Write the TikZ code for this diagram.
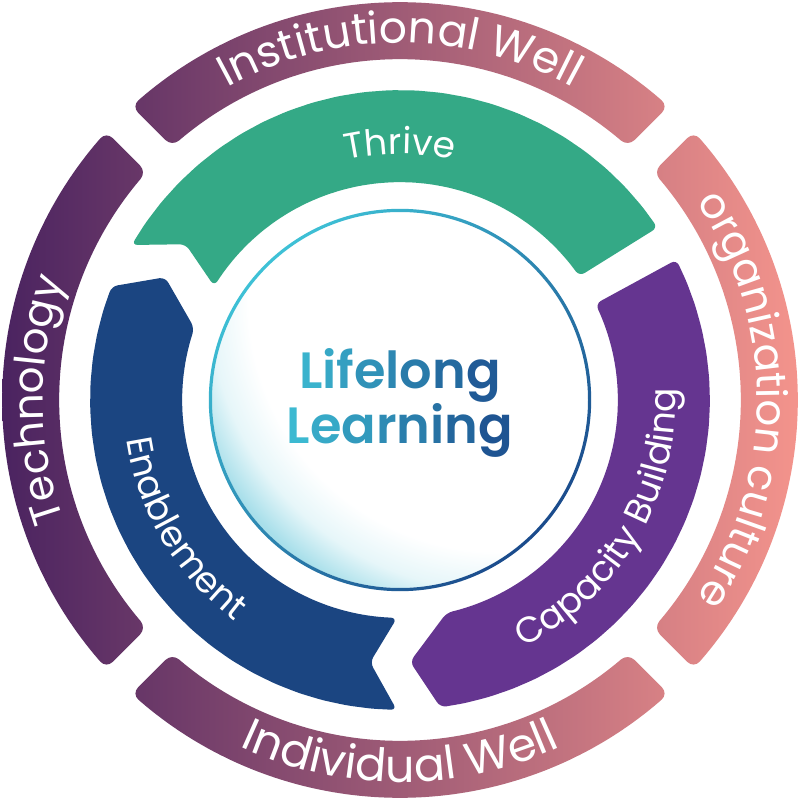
\documentclass[tikz,border=0pt]{standalone}
\usepackage{fontspec}
\setmainfont{Poppins}[BoldFont={Poppins SemiBold}]
\usetikzlibrary{decorations.text}
\definecolor{ringL}{HTML}{4A2360}
\definecolor{ringR}{HTML}{F4948C}
\definecolor{thrivec}{HTML}{34A986}
\definecolor{enabc}{HTML}{1B4581}
\definecolor{capc}{HTML}{653590}
\definecolor{lcyan}{HTML}{3EC1D6}
\definecolor{lblue}{HTML}{1B4B8C}
\definecolor{glowc}{HTML}{A8DFEA}
\definecolor{glowm}{HTML}{E6F6F9}
\pgfdeclareradialshading{glowshade}{\pgfpoint{0bp}{0bp}}{color(0bp)=(white); color(18.4bp)=(white); color(21.3bp)=(glowm); color(23.9bp)=(glowc); color(50bp)=(glowc)}
% polyline arc: start angle, end angle, radius
\newcommand\parc[3]{\foreach \i in {1,...,24}{ -- ({(#1)+((#2)-(#1))*\i/24}:#3pt)}}
% outer ring segment centred at angle #1
\newcommand\oseg[1]{({(#1)+45-2.592}:398pt) \parc{(#1)+45-2.592}{(#1)-45+2.592}{398} -- ({(#1)-45+3.026}:341pt) \parc{(#1)-45+3.026}{(#1)+45-3.026}{341} -- cycle}
\newcommand\gl[2]{\textcolor{lcyan!#1!lblue}{#2}}
\tikzset{
  ringtext/.style 2 args={decorate, decoration={text along path, text align=center, text color=white, text={|\fontsize{#1pt}{#1pt}\selectfont|#2}}},
  arrowtext/.style={decorate, decoration={text along path, text align=center, text color=white, text={|\fontsize{36pt}{36pt}\selectfont|#1}}},
  centertext/.style={anchor=base, inner sep=0pt, font=\bfseries\fontsize{51pt}{55pt}\selectfont}
}
\begin{document}
\begin{tikzpicture}[x=1pt,y=1pt]
\useasboundingbox (-400pt,-400pt) rectangle (400pt,400pt);
\fill[white] (-400pt,-400pt) rectangle (400pt,400pt);
% outer ring
\begin{scope}
  \clip[rounded corners=9pt] \oseg{90} \oseg{0} \oseg{-90} \oseg{180};
  \shade[left color=ringL, right color=ringR] (-400pt,-400pt) rectangle (400pt,400pt);
\end{scope}
% inner arrows
\fill[thrivec, rounded corners=6pt] (33.8:310pt) \parc{33.8}{150}{310} -- (144:265pt) -- (148.5:218pt) \parc{148.5}{34.6}{218} -- cycle;
\fill[enabc, rounded corners=6pt] (158.5:310pt) \parc{158.5}{269.4}{310} -- (263.5:264pt) -- (269.2:218pt) \parc{269.2}{160.7}{218} -- (152.4:265pt) -- cycle;
\fill[capc, rounded corners=6pt] (277.5:310pt) \parc{277.5}{386.9}{310} -- (386.2:218pt) \parc{386.2}{282.3}{218} -- (272.2:262pt) -- cycle;
% centre circle
\begin{scope}
  \clip (0,0) circle (188pt);
  \shade[shading=glowshade] (45:140pt) circle (340pt);
\end{scope}
\shade[even odd rule, top color=lcyan, bottom color=lblue, shading angle=45] (0,0) circle (191.2pt) (0,0) circle (188pt);
% ring texts
\path[ringtext={44}{Institutional Well}] (150:357pt) arc[start angle=150, end angle=30, radius=357pt];
\path[ringtext={42}{organization culture}] (60:357pt) arc[start angle=60, end angle=-60, radius=357pt];
\path[ringtext={42}{Technology}] (240:357pt) arc[start angle=240, end angle=120, radius=357pt];
\path[ringtext={46}{Individual Well}] (220:382pt) arc[start angle=220, end angle=320, radius=382pt];
% arrow texts
\path[arrowtext={Thrive}] (140:246pt) arc[start angle=140, end angle=40, radius=246pt];
\path[arrowtext={Enablement}] (160.7:276pt) arc[start angle=160.7, end angle=260.7, radius=276pt];
\path[arrowtext={Capacity Building}] (279.5:276pt) arc[start angle=279.5, end angle=379.5, radius=276pt];
% centre text
\node[centertext] (lifelong) at (0pt,12pt) {\gl{88}{L}\gl{79}{i}\gl{71}{f}\gl{60}{e}\gl{51}{l}\gl{41}{o}\gl{27}{n}\gl{13}{g}};
\node[centertext] (learning) at (0pt,-43pt) {\gl{93}{L}\gl{80}{e}\gl{67}{a}\gl{54}{r}\gl{43}{n}\gl{33}{i}\gl{23}{n}\gl{8}{g}};
\end{tikzpicture}
\end{document}
